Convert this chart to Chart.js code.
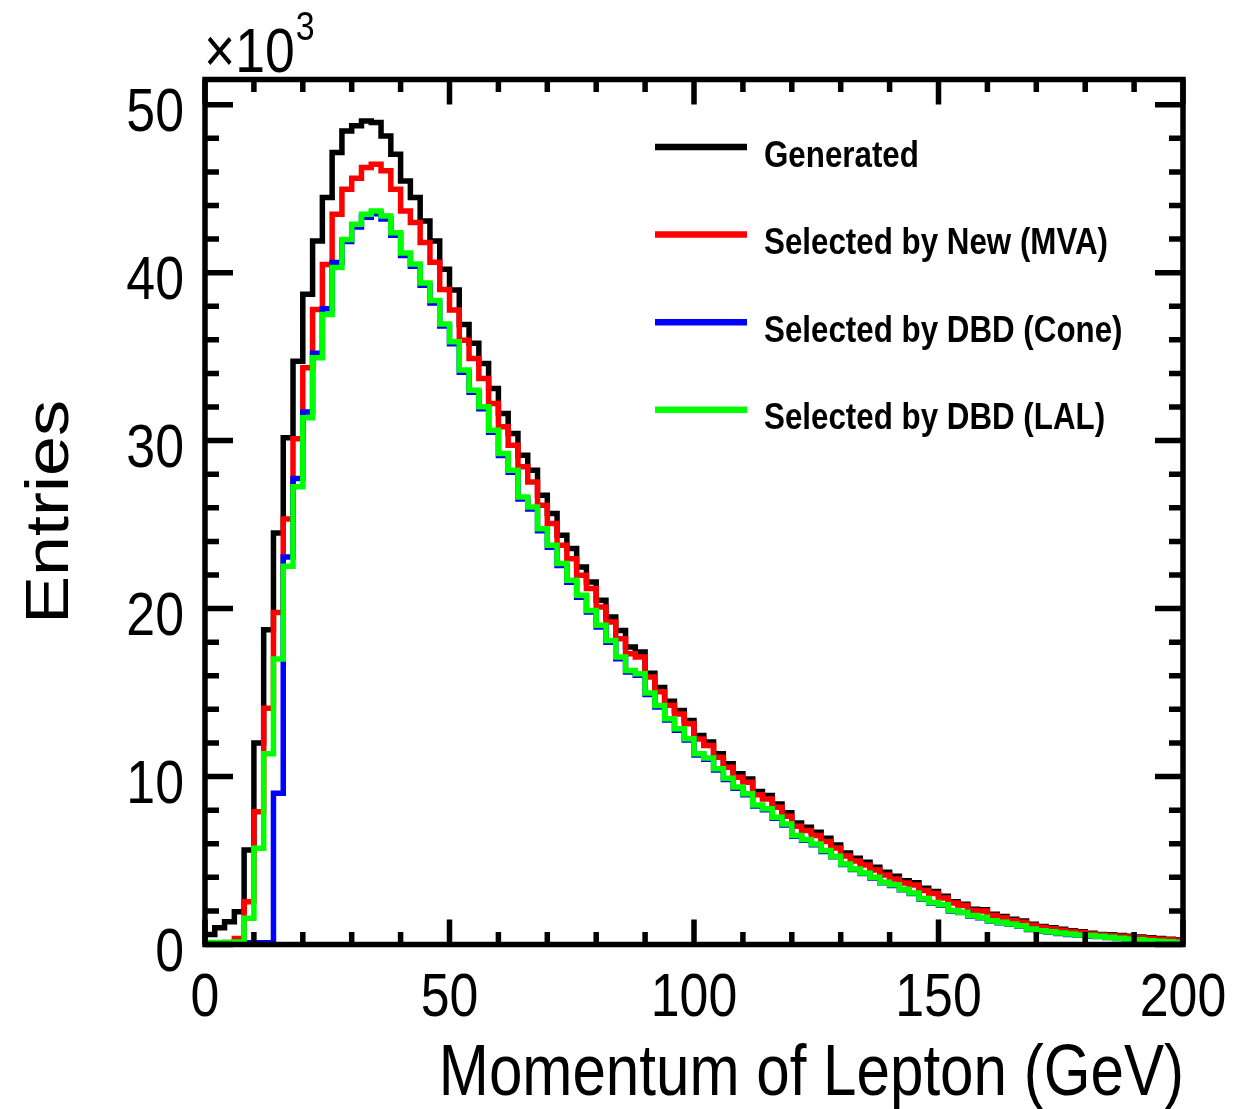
<!DOCTYPE html>
<html>
<head>
<meta charset="utf-8">
<title>Momentum of Lepton</title>
<script src="https://cdn.jsdelivr.net/npm/chart.js@4.4.0/dist/chart.umd.min.js"></script>
<style>
  html, body { margin: 0; padding: 0; background: #fff; }
  #wrap { width: 1234px; height: 1109px; }
</style>
</head>
<body>
<div id="wrap"><canvas id="c" width="1234" height="1109"></canvas></div>
<script>
// bin lower edges in GeV, 100 bins of 2 GeV
const binLow = [];
for (let i = 0; i < 100; i++) binLow.push(i * 2);
const xMax = 200;

// entries per bin, in units of 10^3
const generated = [
  0.6, 1.0, 1.35, 1.95, 5.63, 11.99, 18.74, 24.5, 30.17, 34.73,
  38.71, 41.88, 44.47, 47.15, 48.44, 48.74, 49.03, 48.94, 48.14, 47.05,
  45.46, 44.47, 43.08, 41.88, 40.2, 38.96, 36.92, 35.79, 34.59, 33.1,
  31.61, 30.42, 29.13, 28.24, 26.75, 25.66, 24.36, 23.57, 22.48, 21.58,
  20.49, 19.5, 18.7, 17.71, 17.41, 16.15, 15.3, 14.48, 13.93, 13.34,
  12.44, 12.05, 11.35, 10.76, 10.16, 9.86, 9.11, 8.87, 8.37, 7.84,
  7.24, 6.98, 6.69, 6.33, 5.93, 5.45, 5.14, 4.9, 4.6, 4.3,
  4.06, 3.8, 3.68, 3.35, 3.15, 2.88, 2.55, 2.4, 2.1, 2.07,
  1.8, 1.67, 1.5, 1.4, 1.2, 1.07, 1.0, 0.91, 0.82, 0.76,
  0.67, 0.6, 0.58, 0.54, 0.49, 0.44, 0.40, 0.35, 0.31, 0.28
];
const selectedMVA = [
  0.05, 0.08, 0.12, 0.35, 2.55, 7.91, 14.07, 19.77, 25.34, 30.11,
  34.34, 37.81, 40.49, 43.47, 44.96, 45.62, 46.26, 46.45, 46.06, 44.96,
  43.67, 42.98, 41.79, 40.62, 39.0, 37.77, 35.98, 34.89, 33.7, 32.21,
  30.82, 29.73, 28.44, 27.54, 26.15, 25.06, 23.77, 22.97, 21.98, 21.19,
  20.1, 19.2, 18.21, 17.31, 17.11, 15.92, 15.05, 14.25, 13.73, 13.14,
  12.24, 11.85, 11.15, 10.56, 9.96, 9.66, 8.91, 8.67, 8.17, 7.64,
  7.04, 6.78, 6.49, 6.13, 5.75, 5.27, 4.97, 4.73, 4.43, 4.14,
  3.9, 3.66, 3.54, 3.22, 3.03, 2.77, 2.47, 2.32, 2.03, 1.99,
  1.73, 1.6, 1.43, 1.33, 1.14, 1.01, 0.94, 0.85, 0.77, 0.71,
  0.62, 0.56, 0.53, 0.49, 0.45, 0.4, 0.36, 0.32, 0.28, 0.25
];
const selectedCone = [
  0.1, 0.1, 0.1, 0.1, 0.1, 0.1, 0.1, 9.01, 23.07, 27.74,
  31.7, 35.2, 37.85, 40.6, 41.85, 42.72, 43.3, 43.5, 43.2, 42.22,
  41.02, 40.38, 39.25, 38.2, 36.82, 35.76, 34.07, 32.88, 31.89, 30.5,
  29.11, 28.12, 26.53, 25.93, 24.64, 23.65, 22.57, 21.57, 20.68, 19.79,
  18.9, 18.0, 17.01, 16.22, 16.03, 14.89, 14.14, 13.36, 12.76, 12.17,
  11.28, 11.03, 10.39, 9.83, 9.3, 8.91, 8.25, 8.02, 7.52, 7.12,
  6.44, 6.2, 5.94, 5.54, 5.22, 4.76, 4.46, 4.22, 3.96, 3.67,
  3.52, 3.26, 3.03, 2.71, 2.47, 2.33, 1.99, 1.9, 1.7, 1.6,
  1.4, 1.3, 1.2, 1.1, 0.9, 0.8, 0.74, 0.66, 0.6, 0.55,
  0.51, 0.47, 0.41, 0.35, 0.31, 0.27, 0.21, 0.18, 0.15, 0.12
];
const selectedLAL = [
  0.12, 0.12, 0.12, 0.15, 1.56, 5.73, 11.35, 17.0, 22.52, 27.25,
  31.36, 34.93, 37.51, 40.3, 41.98, 42.88, 43.47, 43.67, 43.37, 42.38,
  41.17, 40.52, 39.38, 38.34, 36.95, 35.89, 34.2, 33.0, 32.01, 30.62,
  29.23, 28.24, 26.65, 26.05, 24.76, 23.77, 22.68, 21.68, 20.79, 19.89,
  19.0, 18.1, 17.11, 16.32, 16.12, 14.98, 14.23, 13.44, 12.84, 12.25,
  11.35, 11.1, 10.46, 9.9, 9.37, 8.97, 8.31, 8.08, 7.58, 7.18,
  6.49, 6.25, 5.99, 5.59, 5.26, 4.8, 4.5, 4.26, 4.0, 3.7,
  3.55, 3.29, 3.06, 2.74, 2.5, 2.36, 2.02, 1.92, 1.72, 1.62,
  1.42, 1.32, 1.22, 1.12, 0.92, 0.82, 0.76, 0.68, 0.62, 0.57,
  0.53, 0.49, 0.43, 0.37, 0.33, 0.29, 0.23, 0.2, 0.17, 0.14
];

const seriesNames = ['Generated', 'Selected by New (MVA)', 'Selected by DBD (Cone)', 'Selected by DBD (LAL)'];
const seriesColors = ['#000000', '#ff0000', '#0000ff', '#00ff00'];

const yTickValues = [0, 10, 20, 30, 40, 50];
const yTickLabels = ['0', '10', '20', '30', '40', '50'];
const xTickValues = [0, 50, 100, 150, 200];
const xTickLabels = ['0', '50', '100', '150', '200'];

const FONT = '"Liberation Sans", Arial, Helvetica, sans-serif';
const SQUEEZE = 0.85; // the picture is narrower than a normal ROOT canvas

// histogram outline: one point per lower edge, plus the upper edge of the last bin
function histPoints(vals) {
  const pts = vals.map((v, i) => ({ x: binLow[i], y: v }));
  pts.push({ x: xMax, y: vals[vals.length - 1] });
  return pts;
}

function squeezedText(ctx, str, x, y, font, align, sq) {
  ctx.save();
  ctx.translate(x, y);
  ctx.scale(sq || SQUEEZE, 1);
  ctx.font = font;
  ctx.textAlign = align;
  ctx.textBaseline = 'alphabetic';
  ctx.fillStyle = '#000';
  ctx.fillText(str, 0, 0);
  ctx.restore();
}

// frame, inward ticks on all four sides, labels, titles and legend like ROOT
const rootFrame = {
  id: 'rootFrame',
  afterDatasetsDraw(chart) {
    const ctx = chart.ctx;
    const a = chart.chartArea;
    const xs = chart.scales.x, ys = chart.scales.y;
    ctx.save();
    ctx.strokeStyle = '#000';
    ctx.lineWidth = 5.5;
    ctx.lineCap = 'butt';

    ctx.beginPath();
    for (let v = 0; v <= 50; v += 2) {
      const py = ys.getPixelForValue(v);
      const len = v % 10 === 0 ? 28 : 14;
      ctx.moveTo(a.left, py); ctx.lineTo(a.left + len, py);
      ctx.moveTo(a.right, py); ctx.lineTo(a.right - len, py);
    }
    for (let v = 0; v <= 200; v += 10) {
      const px = xs.getPixelForValue(v);
      const len = v % 50 === 0 ? 25 : 12.5;
      ctx.moveTo(px, a.bottom); ctx.lineTo(px, a.bottom - len);
      ctx.moveTo(px, a.top); ctx.lineTo(px, a.top + len);
    }
    ctx.stroke();

    ctx.lineJoin = 'miter';
    ctx.strokeRect(a.left, a.top, a.right - a.left, a.bottom - a.top);

    // tick labels
    const tickFont = '61px ' + FONT;
    yTickValues.forEach((v, i) => {
      squeezedText(ctx, yTickLabels[i], 184, ys.getPixelForValue(v) + 26, tickFont, 'right');
    });
    xTickValues.forEach((v, i) => {
      squeezedText(ctx, xTickLabels[i], xs.getPixelForValue(v), 1016, tickFont, 'center');
    });

    // exponent
    ctx.save();
    ctx.font = '63px ' + FONT;
    const wTimes = ctx.measureText('\u00d710').width * SQUEEZE;
    ctx.restore();
    squeezedText(ctx, '\u00d710', 204, 72, '63px ' + FONT, 'left');
    squeezedText(ctx, '3', 204 + wTimes + 1, 40, '40px ' + FONT, 'left');

    // axis titles
    squeezedText(ctx, 'Momentum of Lepton (GeV)', a.right + 1, 1095, '72px ' + FONT, 'right', 0.835);
    ctx.save();
    ctx.translate(68, (a.top + a.bottom) / 2);
    ctx.scale(SQUEEZE, 1);
    ctx.rotate(-Math.PI / 2);
    ctx.font = '72px ' + FONT;
    ctx.textAlign = 'center';
    ctx.fillStyle = '#000';
    ctx.fillText('Entries', 0, 0);
    ctx.restore();

    // legend
    const rowY = [147, 234.6, 322.2, 409.8];
    seriesNames.forEach((name, i) => {
      ctx.beginPath();
      ctx.strokeStyle = seriesColors[i];
      ctx.lineWidth = 6.5;
      ctx.moveTo(655, rowY[i]);
      ctx.lineTo(747, rowY[i]);
      ctx.stroke();
      squeezedText(ctx, name, 764, rowY[i] + 19.5, 'bold 36px ' + FONT, 'left', 0.87);
    });
    ctx.restore();
  }
};

function histDataset(label, vals, color, order) {
  return {
    label: label,
    data: histPoints(vals),
    borderColor: color,
    backgroundColor: color,
    borderWidth: 5.5,
    stepped: true,
    fill: false,
    pointRadius: 0,
    borderJoinStyle: 'miter',
    borderCapStyle: 'butt',
    order: order
  };
}

new Chart(document.getElementById('c').getContext('2d'), {
  type: 'line',
  data: {
    datasets: [
      histDataset(seriesNames[0], generated, seriesColors[0], 4),
      histDataset(seriesNames[1], selectedMVA, seriesColors[1], 3),
      histDataset(seriesNames[2], selectedCone, seriesColors[2], 2),
      histDataset(seriesNames[3], selectedLAL, seriesColors[3], 1)
    ]
  },
  options: {
    responsive: false,
    animation: false,
    events: [],
    layout: { padding: { top: 79.5, right: 51, bottom: 0, left: 0 } },
    plugins: { legend: { display: false }, tooltip: { enabled: false } },
    scales: {
      x: {
        type: 'linear', min: 0, max: xMax,
        grid: { display: false }, border: { display: false }, ticks: { display: false },
        afterFit(s) { s.height = 164.5; }
      },
      y: {
        type: 'linear', min: 0, max: 51.5,
        grid: { display: false }, border: { display: false }, ticks: { display: false },
        afterFit(s) { s.width = 205; }
      }
    }
  },
  plugins: [rootFrame]
});
</script>
</body>
</html>
